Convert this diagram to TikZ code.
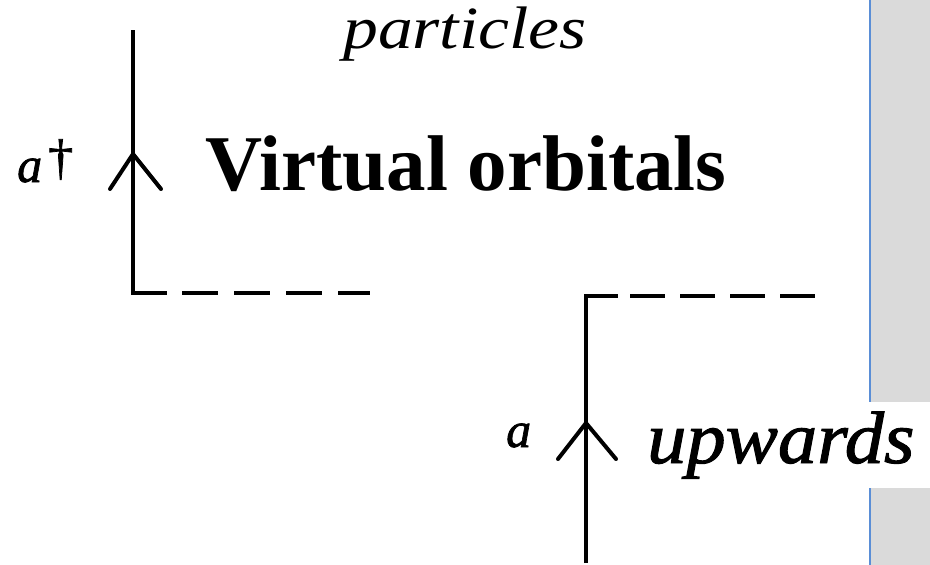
\documentclass[tikz,border=0pt]{standalone}
\usepackage{fontspec}
\setmainfont{Liberation Serif}
\newfontfamily\heavyital[FakeBold=1.3]{Liberation Serif Italic}
\newfontfamily\heavyroman[FakeBold=1.5]{Liberation Serif}
\definecolor{panelgray}{HTML}{DADADA}
\definecolor{panelblue}{HTML}{5A8ED6}
\begin{document}
\begin{tikzpicture}[x=1pt,y=-1pt,
  lineseg/.style={line width=4.5pt},
  dashseg/.style={line width=4.5pt,dash pattern=on 36pt off 16pt},
  arrowarm/.style={line width=4pt,line cap=round},
  lbl/.style={inner sep=0pt,anchor=base west}]
\fill[white] (0,0) rectangle (930,565);
\useasboundingbox (0,0) rectangle (930,565);
% gray side panel
\fill[panelgray] (870,0) rectangle (930,402);
\fill[panelgray] (870,488) rectangle (930,565);
\draw[panelblue,line width=1.5pt] (870,0) -- (870,402);
\draw[panelblue,line width=1.5pt] (870,488) -- (870,565);
% left line
\coordinate (ltop) at (133,30);
\coordinate (lcorner) at (133,293);
\coordinate (ldash) at (370,293);
\coordinate (ltip) at (133,154);
\coordinate (lal) at (110,189);
\coordinate (lar) at (161,189);
\draw[lineseg] (ltop) -- (lcorner) -- (167,293);
\draw[dashseg] (182,293) -- (ldash);
\draw[arrowarm] (lal) -- (ltip) -- (lar);
% right line
\coordinate (rtop) at (586,296);
\coordinate (rbot) at (586,563);
\coordinate (rdash) at (816,296);
\coordinate (rtip) at (586,423);
\coordinate (ral) at (558,459);
\coordinate (rar) at (616,459);
\draw[lineseg] (rbot) -- (rtop) -- (618,296);
\draw[dashseg,dash pattern=on 35pt off 15pt] (630,296) -- (rdash);
\draw[arrowarm] (ral) -- (rtip) -- (rar);
% texts
\node[lbl] (particles) at (343,48) {\scalebox{1.16}[1]{\fontsize{60}{60}\selectfont\itshape particles}};
\node[lbl] (virt) at (205,190) {\fontsize{79}{79}\selectfont\bfseries Virtual orbitals};
\node[lbl] (adag) at (17,182) {\fontsize{50}{50}\selectfont\heavyital a};
\node[lbl] (dag) at (48,174) {\fontsize{50}{50}\selectfont\heavyroman †};
\node[lbl] (alab) at (506,447) {\fontsize{50}{50}\selectfont\heavyital a};
\node[lbl] (upw) at (647,463) {\scalebox{1.06}[1]{\fontsize{74}{74}\selectfont\heavyital upwards}};
\end{tikzpicture}
\end{document}
